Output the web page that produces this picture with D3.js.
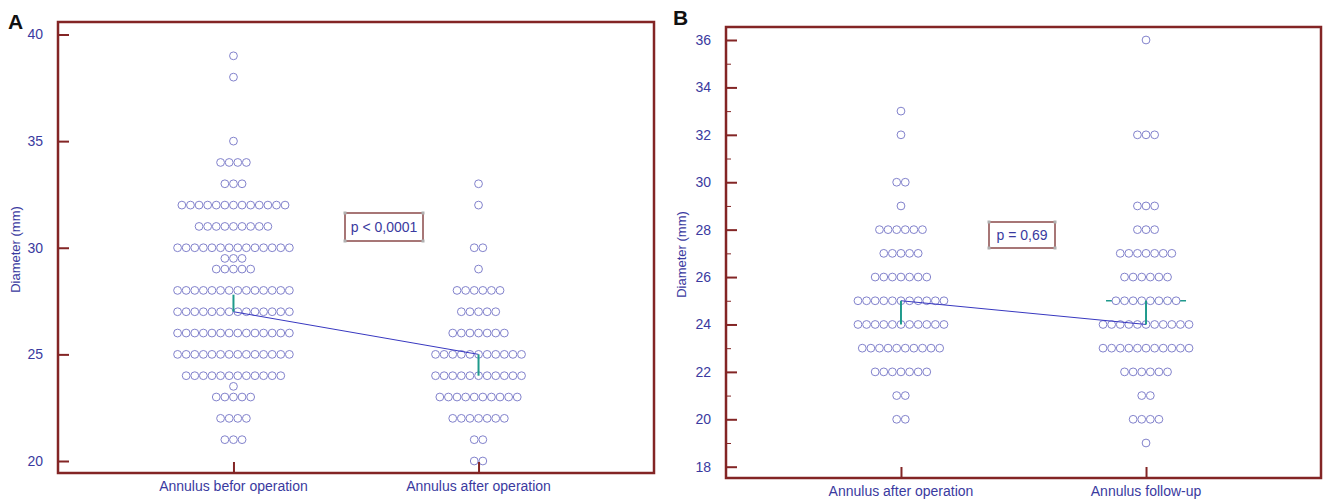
<!DOCTYPE html>
<html>
<head>
<meta charset="utf-8">
<script src="https://cdn.jsdelivr.net/npm/d3@7"></script>
<style>
  body { margin: 0; background: #fff; }
  svg { display: block; font-family: "Liberation Sans", Arial, sans-serif; }
</style>
</head>
<body>
<svg id="chart" width="1324" height="501"></svg>
<script>
// dot rows: value and how many patients share it
var beforeValues = [39, 38, 35, 34, 33, 32, 31, 30, 29.5, 29, 28, 27, 26, 25, 24, 23.5, 23, 22, 21];
var beforeCounts = [1, 1, 1, 4, 3, 13, 9, 14, 3, 5, 14, 14, 14, 14, 12, 1, 5, 4, 3];

var afterValues = [33, 32, 30, 29, 28, 27, 26, 25, 24, 23, 22, 21, 20];
var afterCounts = [1, 1, 2, 1, 6, 5, 7, 11, 11, 10, 7, 2, 2];

var followValues = [36, 32, 29, 28, 27, 26, 25, 24, 23, 22, 21, 20, 19];
var followCounts = [1, 3, 3, 3, 7, 6, 8, 11, 11, 6, 2, 4, 1];

// green bars (low, high) and the connecting line level per group
var barsA = [[27, 27.8], [24, 25]];
var lineA = [27, 25];
var barsB = [[24, 25], [24, 25]];
var lineB = [25, 24];

var catsA = ["Annulus befor operation", "Annulus after operation"];
var catsB = ["Annulus after operation", "Annulus follow-up"];
var ticksA = [20, 25, 30, 35, 40];
var ticksB = [18, 20, 22, 24, 26, 28, 30, 32, 34, 36];
var minorB = [19, 21, 23, 25, 27, 29, 31, 33, 35];

var frameColor = "#832525";
var textColor = "#3a3aa0";
var dotColor = "#8282cc";
var lineColor = "#3838c0";
var barColor = "#1f9a8c";
var dotStep = 8.6;

var svg = d3.select("#chart");

function drawPanel(cfg) {
  var g = svg.append("g");

  var y = d3.scaleLinear().domain(cfg.yDomain).range([cfg.yBottom, cfg.yTop]);
  var x = d3.scalePoint().domain(cfg.cats).range([cfg.x0, cfg.x1]).padding(cfg.pad);

  // horizontal cap lines (drawn under the dots)
  if (cfg.caps) {
    cfg.caps.forEach(function(c) {
      var cx = x(cfg.cats[c.i]);
      g.append("line")
        .attr("x1", cx - c.half).attr("x2", cx + c.half)
        .attr("y1", y(c.v)).attr("y2", y(c.v))
        .attr("stroke", barColor).attr("stroke-width", 1.5);
    });
  }

  // dots
  cfg.groups.forEach(function(grp, gi) {
    var cx = x(cfg.cats[gi]);
    var pts = [];
    grp.values.forEach(function(v, k) {
      var n = grp.counts[k];
      for (var i = 0; i < n; i++) {
        pts.push({x: cx + (i - (n - 1) / 2) * dotStep, v: v});
      }
    });
    g.selectAll(null).data(pts).enter().append("circle")
      .attr("cx", d => d.x)
      .attr("cy", d => y(d.v))
      .attr("r", 3.9)
      .attr("fill", "#fff")
      .attr("stroke", dotColor)
      .attr("stroke-width", 1);
  });

  // connecting line
  g.append("line")
    .attr("x1", x(cfg.cats[0])).attr("y1", y(cfg.line[0]))
    .attr("x2", x(cfg.cats[1])).attr("y2", y(cfg.line[1]))
    .attr("stroke", lineColor).attr("stroke-width", 1);

  // green bars
  cfg.bars.forEach(function(b, i) {
    g.append("line")
      .attr("x1", x(cfg.cats[i])).attr("x2", x(cfg.cats[i]))
      .attr("y1", y(b[0])).attr("y2", y(b[1]))
      .attr("stroke", barColor).attr("stroke-width", 2);
  });

  // frame
  g.append("rect")
    .attr("x", cfg.x0).attr("y", cfg.fTop)
    .attr("width", cfg.x1 - cfg.x0).attr("height", cfg.fBottom - cfg.fTop)
    .attr("fill", "none").attr("stroke", frameColor).attr("stroke-width", 2.5);

  // y axis ticks (inward)
  var yAxis = d3.axisRight(y).tickValues(cfg.ticks).tickSize(11).tickFormat("");
  var ya = g.append("g").attr("transform", "translate(" + cfg.x0 + ",0)").call(yAxis);
  ya.select(".domain").remove();
  ya.selectAll("line").attr("stroke", frameColor).attr("stroke-width", 2);

  if (cfg.minor) {
    var yMinor = d3.axisRight(y).tickValues(cfg.minor).tickSize(5).tickFormat("");
    var ym = g.append("g").attr("transform", "translate(" + cfg.x0 + ",0)").call(yMinor);
    ym.select(".domain").remove();
    ym.selectAll("line").attr("stroke", frameColor).attr("stroke-width", 1);
  }

  g.selectAll(null).data(cfg.ticks).enter().append("text")
    .attr("x", cfg.x0 - 15).attr("y", d => y(d))
    .attr("dy", "0.35em").attr("text-anchor", "end")
    .attr("font-size", 14).attr("fill", textColor)
    .text(d => d);

  // x axis ticks (inward, up)
  var xAxis = d3.axisTop(x).tickSize(11).tickFormat("");
  var xa = g.append("g").attr("transform", "translate(0," + cfg.fBottom + ")").call(xAxis);
  xa.select(".domain").remove();
  xa.selectAll("line").attr("stroke", frameColor).attr("stroke-width", 2);

  g.selectAll(null).data(cfg.cats).enter().append("text")
    .attr("x", d => x(d)).attr("y", cfg.fBottom + 18)
    .attr("text-anchor", "middle")
    .attr("font-size", 14).attr("fill", textColor)
    .text(d => d);

  // y title
  g.append("text")
    .attr("transform", "translate(" + cfg.titleX + "," + ((cfg.fTop + cfg.fBottom) / 2 + 2) + ") rotate(-90)")
    .attr("text-anchor", "middle")
    .attr("font-size", 13).attr("fill", textColor)
    .text("Diameter (mm)");

  // panel letter
  g.append("text")
    .attr("x", cfg.letterX).attr("y", cfg.letterY)
    .attr("font-size", 21).attr("font-weight", "bold").attr("fill", "#111")
    .text(cfg.letter);

  // p-value box
  var pb = cfg.pbox;
  g.append("rect")
    .attr("x", pb.x).attr("y", pb.y).attr("width", pb.w).attr("height", pb.h)
    .attr("fill", "#fff").attr("stroke", "#8a4a4a").attr("stroke-width", 1.5);
  [[pb.x, pb.y], [pb.x + pb.w, pb.y], [pb.x, pb.y + pb.h], [pb.x + pb.w, pb.y + pb.h]].forEach(function(c) {
    g.append("rect").attr("x", c[0] - 1.5).attr("y", c[1] - 1.5)
      .attr("width", 3).attr("height", 3).attr("fill", "#b0b0b0");
  });
  g.append("text")
    .attr("x", pb.x + pb.w / 2).attr("y", pb.y + pb.h / 2)
    .attr("dy", "0.35em").attr("text-anchor", "middle")
    .attr("font-size", 14).attr("fill", textColor)
    .text(pb.text);
}

drawPanel({
  letter: "A", letterX: 8, letterY: 29,
  x0: 58, x1: 654, fTop: 22, fBottom: 473, pad: 0.716,
  yDomain: [20, 40], yBottom: 461, yTop: 34.5,
  cats: catsA, ticks: ticksA, minor: null, titleX: 20,
  groups: [{values: beforeValues, counts: beforeCounts}, {values: afterValues, counts: afterCounts}],
  bars: barsA, line: lineA, caps: null,
  pbox: {x: 345, y: 213, w: 78, h: 28, text: "p < 0,0001"}
});

drawPanel({
  letter: "B", letterX: 673, letterY: 25,
  x0: 726, x1: 1321, fTop: 27, fBottom: 478, pad: 0.714,
  yDomain: [18, 36], yBottom: 466.7, yTop: 40,
  cats: catsB, ticks: ticksB, minor: minorB, titleX: 686,
  groups: [{values: afterValues, counts: afterCounts}, {values: followValues, counts: followCounts}],
  bars: barsB, line: lineB, caps: [{i: 1, v: 25, half: 40}],
  pbox: {x: 989, y: 222, w: 66, h: 26, text: "p = 0,69"}
});
</script>
</body>
</html>
